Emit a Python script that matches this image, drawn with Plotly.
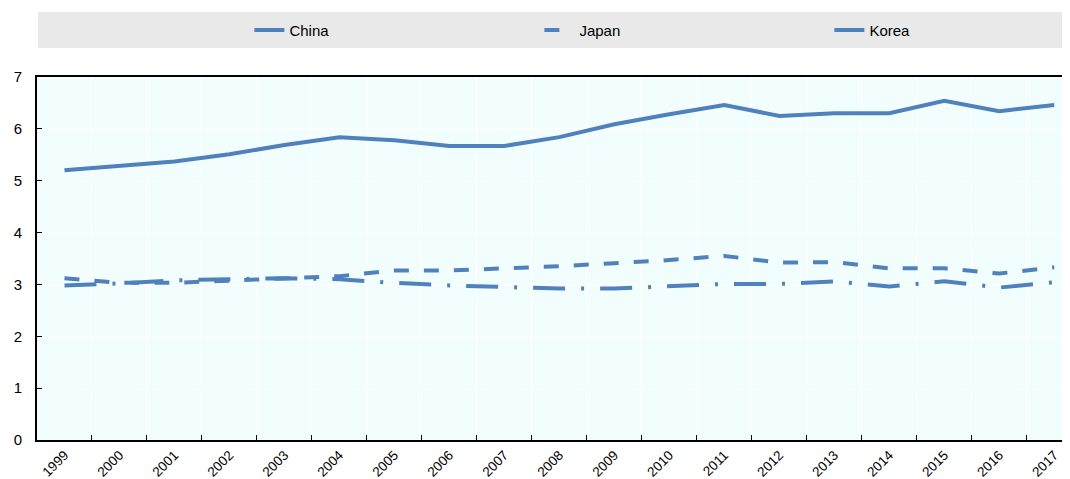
import plotly.graph_objects as go

years = [str(y) for y in range(1999, 2018)]
china = [5.20, 5.28, 5.37, 5.51, 5.69, 5.84, 5.78, 5.67, 5.67, 5.84, 6.09, 6.28, 6.46, 6.25, 6.30, 6.30, 6.54, 6.34, 6.46]
japan = [3.12, 3.03, 3.03, 3.07, 3.12, 3.16, 3.27, 3.27, 3.31, 3.35, 3.41, 3.47, 3.55, 3.42, 3.43, 3.31, 3.31, 3.21, 3.33]
korea = [2.98, 3.02, 3.08, 3.10, 3.12, 3.10, 3.03, 2.98, 2.95, 2.92, 2.92, 2.96, 3.01, 3.01, 3.06, 2.96, 3.06, 2.94, 3.04]
y_ticks = [0, 1, 2, 3, 4, 5, 6, 7]

color = "#4f81bd"
font_family = "Liberation Sans Narrow, Arial Narrow, Liberation Sans, Arial"

fig = go.Figure()
fig.add_trace(go.Scatter(x=years, y=china, name="China", mode="lines",
                         line=dict(color=color, width=4)))
fig.add_trace(go.Scatter(x=years, y=japan, name="Japan", mode="lines",
                         line=dict(color=color, width=4, dash="15px,15px")))
fig.add_trace(go.Scatter(x=years, y=korea, name="Korea", mode="lines",
                         line=dict(color=color, width=4, dash="32px,16px,3px,16px")))

# legend background band
fig.add_shape(type="rect", xref="paper", yref="paper",
              x0=0.001, x1=1.002, y0=1.080, y1=1.179,
              fillcolor="#e9e9e9", line=dict(width=0), layer="below")

fig.update_layout(
    width=1062, height=471,
    margin=dict(l=29, r=2, t=69, b=39, autoexpand=False),
    paper_bgcolor="white",
    plot_bgcolor="#f2fefe",
    font=dict(family=font_family, size=14, color="black"),
    showlegend=True,
    legend=dict(orientation="h", x=0.206, xanchor="left", y=1.129, yanchor="middle",
                bgcolor="rgba(0,0,0,0)", entrywidth=245, entrywidthmode="pixels",
                font=dict(size=15, family=font_family)),
    xaxis=dict(type="category", range=[-0.5, 18.25], tickson="boundaries",
               ticks="inside", ticklen=5, tickcolor="black", tickwidth=1,
               showline=True, linecolor="black", linewidth=2, mirror=True,
               showgrid=True, gridcolor="white", gridwidth=1, automargin=False,
               tickangle=-45, tickfont=dict(size=13.5)),
    yaxis=dict(range=[0, 7], tickvals=y_ticks, ticks="inside", ticklen=5,
               tickcolor="black", tickwidth=1,
               showline=True, linecolor="black", linewidth=2,
               showgrid=True, gridcolor="white", gridwidth=1, automargin=False,
               zeroline=False, ticklabelstandoff=10,
               tickfont=dict(size=15)),
)

fig.write_html("out.html")
